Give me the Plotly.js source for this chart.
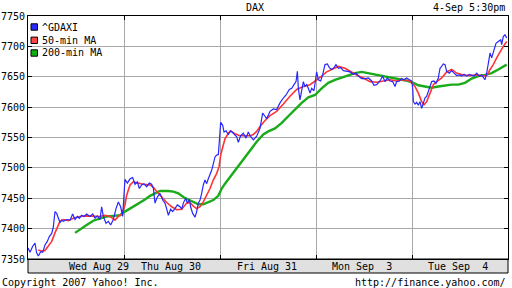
<!DOCTYPE html>
<html>
<head>
<meta charset="utf-8">
<script src="https://cdn.plot.ly/plotly-3.0.1.min.js"></script>
<style>html,body{margin:0;padding:0;background:#fff;}#chart{width:512px;height:288px;}</style>
</head>
<body>
<div id="chart"></div>
<script>
// Time axis unit: trading days since Wed Aug 29 open (0..5)
const dayLabels = ['Wed Aug 29', 'Thu Aug 30', 'Fri Aug 31', 'Mon Sep\u00a0\u00a03', 'Tue Sep\u00a0\u00a04'];
const dayLabelPos = [0.74, 1.49, 2.49, 3.48, 4.48];
const dayBreaks = [1, 2, 3, 4];
const yTicks = [7350, 7400, 7450, 7500, 7550, 7600, 7650, 7700, 7750];
const seriesNames = ['^GDAXI', '50-min MA', '200-min MA'];

const daxT = [0.000,0.021,0.049,0.073,0.090,0.108,0.132,0.153,0.177,0.201,0.222,0.247,0.264,0.281,0.299,0.316,0.333,0.351,0.368,0.403,0.438,0.465,0.490,0.514,0.535,0.559,0.583,0.611,0.646,0.674,0.698,0.722,0.750,0.767,0.785,0.813,0.837,0.861,0.889,0.917,0.941,0.965,0.986,
1.010,1.035,1.063,1.090,1.115,1.139,1.160,1.184,1.208,1.236,1.264,1.288,1.306,1.323,1.347,1.375,1.403,1.427,1.444,1.462,1.486,1.507,1.531,1.556,1.583,1.601,1.618,1.642,1.660,1.681,1.694,1.715,1.740,1.757,1.774,1.792,1.809,1.826,1.844,1.861,1.878,1.896,1.913,1.931,1.948,1.965,1.983,
2.007,2.028,2.042,2.063,2.087,2.111,2.139,2.174,2.191,2.215,2.243,2.271,2.295,2.313,2.347,2.382,2.417,2.444,2.469,2.486,2.521,2.556,2.590,2.625,2.660,2.688,2.722,2.747,2.771,2.792,2.806,2.816,2.833,2.851,2.868,2.885,2.903,2.920,2.938,2.955,2.979,
3.007,3.024,3.049,3.069,3.094,3.118,3.139,3.163,3.188,3.208,3.233,3.257,3.285,3.319,3.354,3.389,3.417,3.441,3.476,3.510,3.545,3.580,3.604,3.632,3.667,3.694,3.719,3.743,3.771,3.799,3.823,3.840,3.868,3.892,3.917,3.944,3.972,3.997,
4.007,4.014,4.031,4.049,4.066,4.083,4.101,4.118,4.135,4.153,4.170,4.188,4.205,4.229,4.250,4.274,4.292,4.309,4.326,4.344,4.361,4.389,4.413,4.438,4.465,4.493,4.518,4.542,4.569,4.597,4.622,4.646,4.674,4.701,4.726,4.743,4.760,4.778,4.795,4.813,4.830,4.847,4.875,4.899,4.924,4.934,4.951,4.969,4.986];
const daxV = [7368,7361,7371,7376,7360,7355,7362,7361,7373,7379,7387,7392,7403,7428,7425,7417,7410,7414,7412,7415,7414,7424,7415,7420,7417,7422,7420,7424,7420,7424,7417,7421,7415,7436,7420,7409,7412,7406,7415,7433,7444,7436,7420,
7481,7475,7482,7484,7473,7477,7466,7472,7474,7469,7475,7473,7466,7442,7452,7458,7447,7442,7433,7422,7432,7428,7433,7439,7436,7432,7442,7450,7442,7448,7436,7425,7419,7428,7442,7447,7458,7472,7480,7474,7482,7488,7496,7507,7518,7521,7522,
7575,7570,7559,7561,7555,7561,7557,7551,7542,7553,7557,7549,7559,7553,7546,7552,7565,7590,7585,7581,7593,7597,7596,7607,7615,7620,7629,7631,7637,7642,7659,7631,7612,7626,7642,7634,7637,7631,7623,7631,7627,
7658,7645,7643,7653,7670,7671,7665,7662,7665,7670,7664,7665,7660,7659,7658,7654,7656,7651,7647,7647,7648,7643,7636,7637,7643,7651,7642,7648,7643,7642,7634,7642,7643,7647,7645,7648,7645,7643,
7631,7609,7605,7608,7603,7609,7598,7607,7615,7618,7626,7637,7642,7643,7639,7648,7664,7667,7671,7670,7659,7656,7660,7656,7652,7653,7651,7654,7651,7654,7653,7651,7656,7651,7653,7649,7645,7656,7670,7689,7681,7692,7705,7708,7711,7703,7716,7719,7714];

const ma50T = [0.107,0.143,0.177,0.211,0.247,0.281,0.305,0.333,0.368,0.420,0.472,0.542,0.611,0.680,0.750,0.802,0.854,0.906,0.941,0.976,
1.010,1.028,1.063,1.097,1.149,1.201,1.271,1.306,1.341,1.393,1.445,1.497,1.549,1.601,1.653,1.688,1.722,1.757,1.792,1.826,1.861,1.896,1.930,1.966,1.990,
2.007,2.028,2.052,2.086,2.111,2.156,2.208,2.260,2.313,2.347,2.382,2.417,2.469,2.521,2.590,2.660,2.729,2.799,2.868,2.938,2.990,
3.007,3.059,3.111,3.180,3.233,3.302,3.354,3.424,3.493,3.563,3.632,3.701,3.771,3.840,3.910,3.979,
4.031,4.066,4.101,4.125,4.153,4.188,4.222,4.257,4.309,4.361,4.413,4.465,4.535,4.604,4.674,4.743,4.785,4.813,4.847,4.882,4.917,4.951,4.986];
const ma50V = [7365,7363,7364,7371,7379,7393,7403,7412,7415,7413,7417,7420,7421,7421,7420,7422,7420,7414,7420,7424,
7439,7455,7472,7477,7475,7473,7472,7468,7461,7452,7443,7436,7431,7432,7442,7443,7437,7433,7436,7444,7455,7466,7480,7491,7502,
7521,7534,7548,7557,7561,7556,7553,7553,7553,7555,7560,7568,7578,7586,7593,7605,7618,7629,7634,7637,7642,
7645,7651,7658,7663,7667,7664,7659,7653,7648,7642,7641,7643,7645,7643,7645,7643,
7634,7623,7609,7604,7609,7623,7637,7642,7648,7658,7662,7656,7653,7652,7653,7651,7653,7662,7670,7681,7692,7700,7708];

const ma200T = [0.490,0.542,0.611,0.680,0.750,0.820,0.889,0.958,
1.010,1.063,1.115,1.167,1.219,1.271,1.323,1.375,1.461,1.514,1.566,1.618,1.670,1.722,1.774,1.826,1.878,1.930,1.982,
2.018,2.052,2.104,2.156,2.208,2.260,2.313,2.382,2.451,2.503,2.573,2.643,2.711,2.781,2.851,2.920,2.990,
3.059,3.128,3.198,3.268,3.336,3.406,3.476,3.545,3.615,3.684,3.753,3.823,3.893,3.961,
4.014,4.066,4.135,4.205,4.274,4.344,4.413,4.482,4.552,4.622,4.691,4.760,4.830,4.899,4.986];
const ma200V = [7393,7398,7406,7413,7417,7420,7421,7422,
7428,7433,7437,7443,7448,7454,7458,7462,7462,7461,7458,7452,7448,7444,7440,7440,7443,7447,7454,
7466,7474,7485,7496,7507,7518,7530,7543,7555,7560,7565,7574,7585,7596,7607,7616,7620,
7631,7640,7645,7649,7653,7656,7658,7656,7654,7652,7649,7647,7645,7643,
7640,7636,7634,7632,7634,7636,7637,7637,7640,7647,7651,7653,7656,7662,7670];

const colors = ['#2727ff', '#ff3333', '#1aab1a'];
const legendFill = ['#2a2aff', '#ff4444', '#11b011'];
const FONT = 'DejaVu Sans Mono, monospace';

// Geometry (pixels) for paper-coordinate conversions
const W = 512, H = 288, ML = 28, MR = 4, MT = 16, MB = 29;
const PW = W - ML - MR, PH = H - MT - MB;
const px = x => (x - ML) / PW;
const py = y => (H - MB - y) / PH;

const traces = [
  {x: ma200T, y: ma200V, name: seriesNames[2], mode: 'lines', line: {color: colors[2], width: 2.4}, showlegend: false, hoverinfo: 'skip'},
  {x: ma50T, y: ma50V, name: seriesNames[1], mode: 'lines', line: {color: colors[1], width: 1.6}, showlegend: false, hoverinfo: 'skip'},
  {x: daxT, y: daxV, name: seriesNames[0], mode: 'lines', line: {color: colors[0], width: 1.2}, showlegend: false, hoverinfo: 'skip'}
];

const shapes = [
  // date band under the plot
  {type: 'rect', xref: 'paper', yref: 'paper', x0: 0, x1: 1, y0: 0, y1: py(273), fillcolor: '#e0e0e0', line: {color: '#000', width: 1}, layer: 'below'}
];
const annotations = [
  {xref: 'paper', yref: 'paper', x: px(507), y: py(7), xanchor: 'right', yanchor: 'middle', text: '4-Sep 5:30pm', showarrow: false, font: {family: FONT, size: 10, color: '#000'}},
  {xref: 'paper', yref: 'paper', x: px(0), y: py(282), xanchor: 'left', yanchor: 'middle', text: 'Copyright 2007 Yahoo! Inc.', showarrow: false, font: {family: FONT, size: 10, color: '#000'}},
  {xref: 'paper', yref: 'paper', x: px(508), y: py(282), xanchor: 'right', yanchor: 'middle', text: 'http://finance.yahoo.com/', showarrow: false, font: {family: FONT, size: 10, color: '#000'}}
];
const legendRows = [27, 40.3, 53];
seriesNames.forEach((n, i) => {
  const yc = legendRows[i];
  shapes.push({type: 'rect', xref: 'paper', yref: 'paper', x0: px(31), x1: px(37.5), y0: py(yc + 3.2), y1: py(yc - 3.2), fillcolor: legendFill[i], line: {color: '#000', width: 1}});
  annotations.push({xref: 'paper', yref: 'paper', x: px(40), y: py(yc), xanchor: 'left', yanchor: 'middle', text: n, showarrow: false, font: {family: FONT, size: 10, color: '#000'}});
});

const layout = {
  width: W, height: H,
  margin: {l: ML, r: MR, t: MT, b: MB, pad: 0},
  paper_bgcolor: '#fff', plot_bgcolor: '#fff',
  showlegend: false,
  font: {family: FONT, size: 10, color: '#000'},
  title: {text: 'DAX', x: 255 / W, xanchor: 'center', xref: 'container', y: 1 - 7 / H, yanchor: 'middle', yref: 'container', font: {family: FONT, size: 10, color: '#000'}},
  xaxis: {
    range: [0, 5], fixedrange: true,
    showline: true, linecolor: '#000', linewidth: 1, mirror: 'allticks',
    tickmode: 'array', tickvals: dayLabelPos, ticktext: dayLabels, ticks: '', showgrid: false,
    ticklabelstandoff: -2,
    tickfont: {family: FONT, size: 10, color: '#000'},
    minor: {tickmode: 'array', tickvals: dayBreaks, showgrid: true, gridcolor: '#a8a8a8', gridwidth: 1, ticks: 'inside', ticklen: 4, tickcolor: '#000'},
    zeroline: false
  },
  yaxis: {
    range: [7350, 7750], fixedrange: true,
    showline: true, linecolor: '#000', linewidth: 1, mirror: 'allticks',
    tickmode: 'array', tickvals: yTicks, ticktext: yTicks.map(String),
    ticks: 'inside', ticklen: 4, tickcolor: '#000',
    showgrid: true, gridcolor: '#a8a8a8', gridwidth: 1,
    tickfont: {family: FONT, size: 10, color: '#000'},
    zeroline: false
  },
  shapes: shapes,
  annotations: annotations
};

Plotly.newPlot('chart', traces, layout, {staticPlot: true, displayModeBar: false});
</script>
</body>
</html>
